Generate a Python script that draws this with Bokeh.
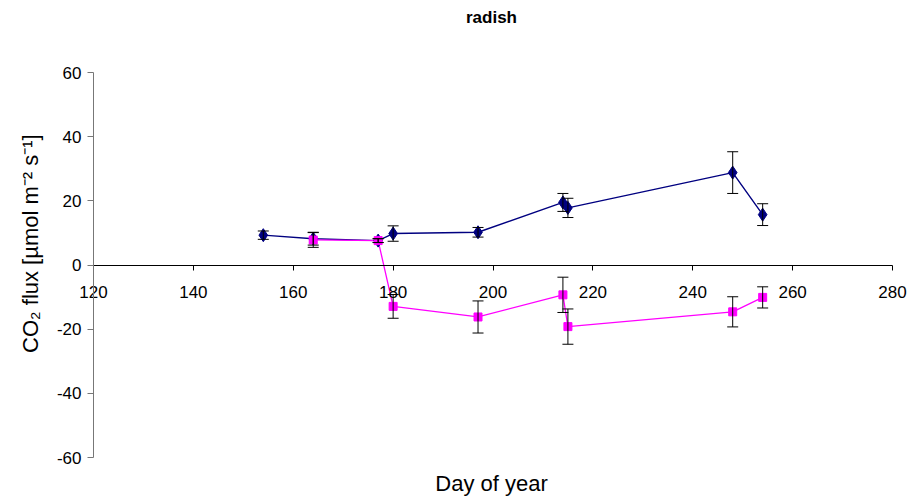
from bokeh.plotting import figure
from bokeh.models import (ColumnDataSource, Whisker, FixedTicker, Range1d,
                          LinearAxis, Label, PrintfTickFormatter)
from bokeh.embed import file_html
from bokeh.resources import INLINE

# Data
blue_day = [154, 164, 177, 180, 197, 214, 215, 248, 254]
blue_flux = [9.3, 8.2, 7.6, 9.8, 10.2, 19.5, 17.8, 28.8, 15.7]
blue_err = [1.3, 2.0, 0.6, 2.4, 1.5, 2.8, 3.0, 6.5, 3.4]

pink_day = [164, 177, 180, 197, 214, 215, 248, 254]
pink_flux = [7.8, 7.6, -12.9, -16.2, -9.3, -19.2, -14.6, -10.1]
pink_err = [2.3, 0.6, 3.7, 5.0, 5.5, 5.5, 4.7, 3.3]

x_ticks = [120, 140, 160, 180, 200, 220, 240, 260, 280]
y_ticks = [-60, -40, -20, 0, 20, 40, 60]

FONT = "Liberation Sans"

W, H = 907, 499

# The frame fills the whole canvas; the axes cross inside it (Excel style).
# plot area of the reference: x 120..280 -> px 93..892, y 60..-60 -> px 72..457
sx = (892 - 93) / 160.0
sy = (457 - 72) / 120.0
x0 = 120 - 93 / sx
x1 = x0 + W / sx
y1 = 60 + 72 / sy
y0 = y1 - H / sy

p = figure(width=W, height=H, output_backend="svg", toolbar_location=None,
           x_range=Range1d(x0, x1), y_range=Range1d(y0, y1),
           x_axis_location=None, y_axis_location=None,
           min_border_left=0, min_border_right=0,
           min_border_top=0, min_border_bottom=0)
p.outline_line_color = None
p.background_fill_color = "white"
p.border_fill_color = "white"
p.grid.grid_line_color = None

xaxis = LinearAxis(fixed_location=0, bounds=(120, 280), ticker=FixedTicker(ticks=x_ticks),
                   formatter=PrintfTickFormatter(format="%d"))
xaxis.axis_line_color = "black"
xaxis.major_tick_line_color = "black"
xaxis.major_tick_out = 5
xaxis.major_tick_in = 0
xaxis.minor_tick_line_color = None
xaxis.major_label_text_font = FONT
xaxis.major_label_text_font_size = "17px"
xaxis.major_label_text_color = "black"
xaxis.major_label_standoff = 16
p.add_layout(xaxis, "below")

yaxis = LinearAxis(fixed_location=120, bounds=(-60, 60), ticker=FixedTicker(ticks=y_ticks),
                   formatter=PrintfTickFormatter(format="%d"))
yaxis.axis_line_color = "#777777"
yaxis.major_tick_line_color = "#777777"
yaxis.major_tick_out = 6
yaxis.major_tick_in = 0
yaxis.minor_tick_line_color = None
yaxis.major_label_text_font = FONT
yaxis.major_label_text_font_size = "17px"
yaxis.major_label_text_color = "black"
yaxis.major_label_standoff = 6
yaxis.axis_label = "\u00a0" * 7 + "CO\u2082 flux [\u00b5mol m\u207b\u00b2 s\u207b\u00b9]"
yaxis.axis_label_text_font = FONT
yaxis.axis_label_text_font_size = "22px"
yaxis.axis_label_text_font_style = "normal"
yaxis.axis_label_text_color = "black"
yaxis.axis_label_standoff = 11
p.add_layout(yaxis, "left")

# chart title and x-axis title (screen units, measured from the frame's bottom-left)
p.add_layout(Label(x=491, y=H - 17, x_units="screen", y_units="screen", text="radish",
                   text_font=FONT, text_font_size="17px", text_font_style="bold",
                   text_align="center", text_baseline="middle", text_color="black"))
p.add_layout(Label(x=491, y=H - 483, x_units="screen", y_units="screen", text="Day of year",
                   text_font=FONT, text_font_size="22px",
                   text_align="center", text_baseline="middle", text_color="black"))

bsrc = ColumnDataSource(dict(x=blue_day, y=blue_flux,
                             lo=[v - e for v, e in zip(blue_flux, blue_err)],
                             hi=[v + e for v, e in zip(blue_flux, blue_err)]))
psrc = ColumnDataSource(dict(x=pink_day, y=pink_flux,
                             lo=[v - e for v, e in zip(pink_flux, pink_err)],
                             hi=[v + e for v, e in zip(pink_flux, pink_err)]))

p.line("x", "y", source=bsrc, line_color="#000080", line_width=1.4)
p.line("x", "y", source=psrc, line_color="#FF00FF", line_width=1.3)
p.scatter("x", "y", source=bsrc, marker="diamond", size=13,
          fill_color="#000080", line_color="#000080")
p.scatter("x", "y", source=psrc, marker="square", size=8,
          fill_color="#FF00FF", line_color="#FF00FF")

for src in (bsrc, psrc):
    w = Whisker(base="x", lower="lo", upper="hi", source=src, level="overlay",
                line_color="black", line_width=1)
    w.upper_head.size = 11
    w.lower_head.size = 11
    w.upper_head.line_color = "black"
    w.lower_head.line_color = "black"
    p.add_layout(w)

open("out.html", "w").write(file_html(p, INLINE))
